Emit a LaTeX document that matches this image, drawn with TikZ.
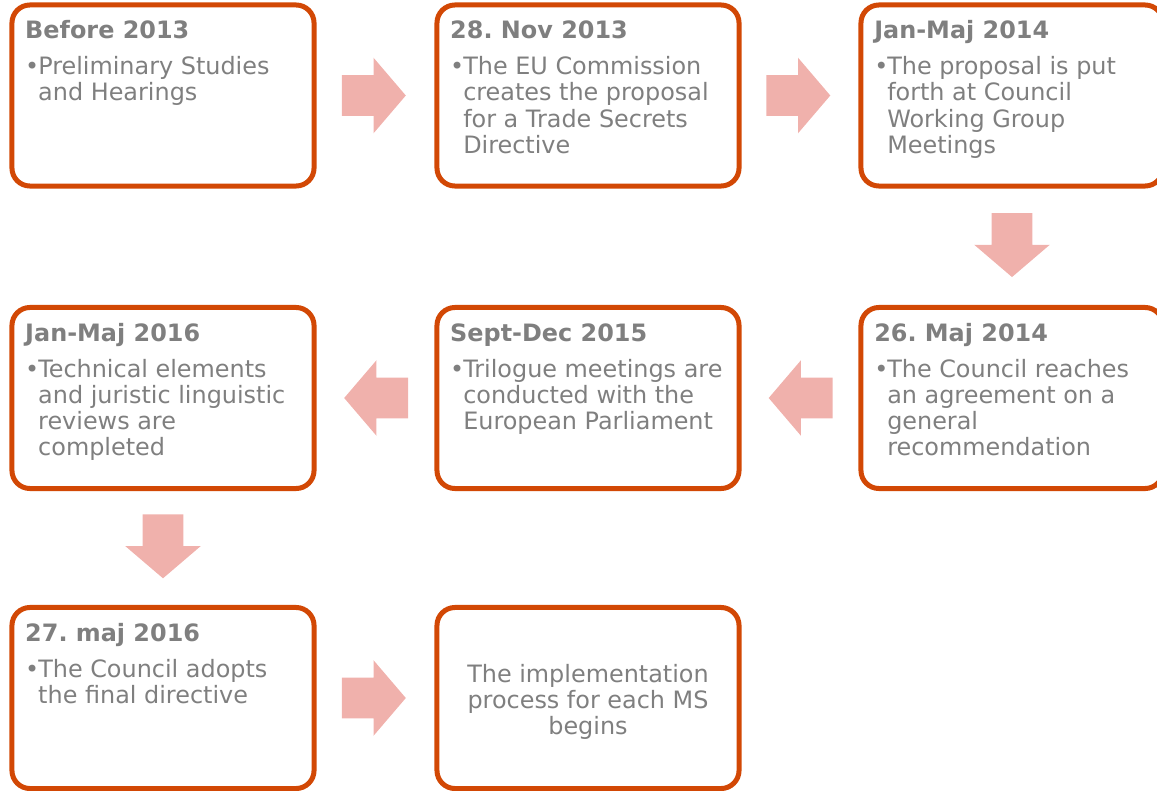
\documentclass[tikz,border=0pt]{standalone}
\usepackage{fontspec}
\setmainfont{DejaVu Sans}
\usepackage{tikz}
\usetikzlibrary{shapes.arrows, calc}
\usepackage{xcolor}
\frenchspacing

\definecolor{boxorange}{RGB}{210,72,5}
\definecolor{arrowpink}{RGB}{240,177,172}
\definecolor{textgray}{RGB}{127,127,127}

\newcommand{\stagepoints}[1]{\parbox[t]{6.9cm}{\hangindent=0.325cm\hangafter=1\noindent\makebox[0.325cm][l]{\textbullet}#1}}

\begin{document}
\begin{tikzpicture}[x=0.025cm, y=-0.025cm,
  stage/.style={draw=boxorange, line width=0.125cm, rounded corners=0.45cm, outer sep=0pt, minimum width=7.55cm, minimum height=4.525cm},
  stagetitle/.style={anchor=base west, inner sep=0pt, text=textgray, font=\fontsize{17}{18.5}\selectfont\bfseries},
  stagebody/.style={anchor=base west, inner sep=0pt, text=textgray, font=\fontsize{17}{18.5}\selectfont},
  blockarrow/.style={single arrow, anchor=tail, fill=arrowpink, inner xsep=0pt, inner ysep=0.5cm, minimum height=1.6cm, single arrow head extend=0.4375cm, single arrow tip angle=99}]
\useasboundingbox (0,0) rectangle (1157,790);
% Tidslinje for direktivet
\node[stage] (s1) at (163,95.5) {};
\node[stage] (s2) at (588,95.5) {};
\node[stage] (s3) at (1012,95.5) {};
\node[stage] (s4) at (1012,398) {};
\node[stage] (s5) at (588,398) {};
\node[stage] (s6) at (163,398) {};
\node[stage] (s7) at (163,698) {};
\node[stage] (s8) at (588,698) {};

\node[stagetitle] (h1) at ($(s1.north west)+(13,34)$) {Before 2013};
\node[stagebody] (t1) at ($(s1.north west)+(13,70)$) {\stagepoints{Preliminary Studies\\and Hearings}};
\node[stagetitle] (h2) at ($(s2.north west)+(13,34)$) {28. Nov 2013};
\node[stagebody] (t2) at ($(s2.north west)+(13,70)$) {\stagepoints{The EU Commission\\creates the proposal\\for a Trade Secrets\\Directive}};
\node[stagetitle] (h3) at ($(s3.north west)+(13,34)$) {Jan-Maj 2014};
\node[stagebody] (t3) at ($(s3.north west)+(13,70)$) {\stagepoints{The proposal is put\\forth at Council\\Working Group\\Meetings}};
\node[stagetitle] (h4) at ($(s4.north west)+(13,34)$) {26. Maj 2014};
\node[stagebody] (t4) at ($(s4.north west)+(13,70)$) {\stagepoints{The Council reaches\\an agreement on a\\general\\recommendation}};
\node[stagetitle] (h5) at ($(s5.north west)+(13,34)$) {Sept-Dec 2015};
\node[stagebody] (t5) at ($(s5.north west)+(13,70)$) {\stagepoints{Trilogue meetings are\\conducted with the\\European Parliament}};
\node[stagetitle] (h6) at ($(s6.north west)+(13,34)$) {Jan-Maj 2016};
\node[stagebody] (t6) at ($(s6.north west)+(13,70)$) {\stagepoints{Technical elements\\and juristic linguistic\\reviews are\\completed}};
\node[stagetitle] (h7) at ($(s7.north west)+(13,34)$) {27. maj 2016};
\node[stagebody] (t7) at ($(s7.north west)+(13,70)$) {\stagepoints{The Council adopts\\the final directive}};
\node[stagebody, anchor=center, align=center] (t8) at ($(s8.center)+(0,4)$) {The implementation\\process for each MS\\begins};

% pile mellem trinene
\node[blockarrow] (a1) at ($(s1.east)!0.5!(s2.west)+(-34,0)$) {};
\node[blockarrow] (a2) at ($(s2.east)!0.5!(s3.west)+(-34,0)$) {};
\node[blockarrow, rotate=-90] (a3) at ($(s3.south)!0.5!(s4.north)+(0,-34)$) {};
\node[blockarrow, rotate=180] (a4) at ($(s4.west)!0.5!(s5.east)+(33,0)$) {};
\node[blockarrow, rotate=180] (a5) at ($(s5.west)!0.5!(s6.east)+(33,0)$) {};
\node[blockarrow, rotate=-90] (a6) at ($(s6.south)!0.5!(s7.north)+(0,-34)$) {};
\node[blockarrow] (a7) at ($(s7.east)!0.5!(s8.west)+(-34,0)$) {};
\end{tikzpicture}
\end{document}
